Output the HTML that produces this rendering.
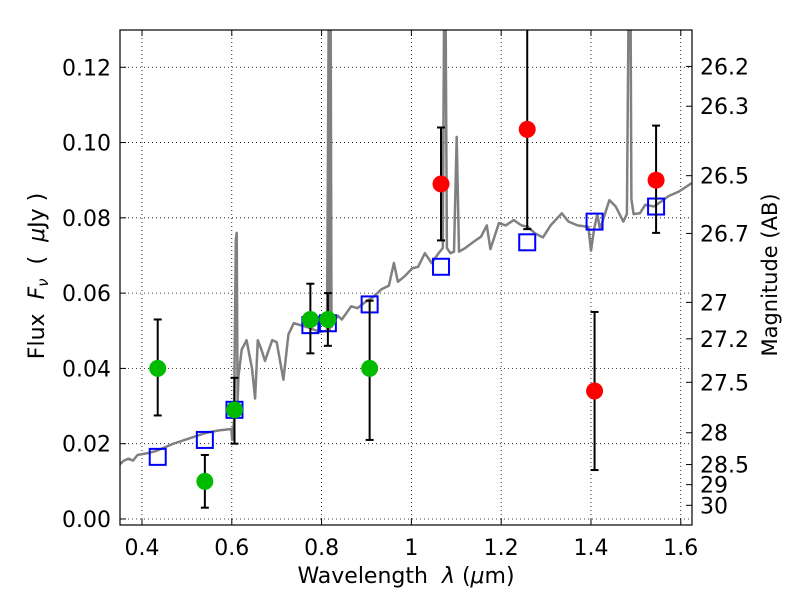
<!DOCTYPE html>
<html><head><meta charset="utf-8"><style>
body{margin:0;background:#fff;}
svg{display:block;font-family:"DejaVu Sans","Liberation Sans",sans-serif;}
.pre{white-space:pre;}
</style></head><body>
<svg id="chart" width="800" height="600" viewBox="0 0 800 600" xmlns="http://www.w3.org/2000/svg">
<rect x="0" y="0" width="800" height="600" fill="#fff"/>
<g id="grid"></g>
<g id="spec"></g>
<g id="marks"></g>
<g id="axes"></g>
<text class="pre" x="406" y="583" font-size="22" text-anchor="middle">Wavelength  <tspan font-style="italic">λ</tspan> (<tspan font-style="italic">μ</tspan>m)</text>
<text class="pre" transform="translate(44,276) rotate(-90)" font-size="22" text-anchor="middle">Flux  <tspan font-style="italic">F<tspan font-size="15" dy="4">ν</tspan></tspan><tspan dy="-4">  (  </tspan><tspan font-style="italic">μ</tspan>Jy )</text>
<text transform="translate(777,275) rotate(-90)" font-size="21" text-anchor="middle">Magnitude (AB)</text>
</svg>
<script>
const xTicks=[0.4,0.6,0.8,1.0,1.2,1.4,1.6];
const xTickLabels=["0.4","0.6","0.8","1","1.2","1.4","1.6"];
const yTicks=[0,0.02,0.04,0.06,0.08,0.10,0.12];
const yTickLabels=["0.00","0.02","0.04","0.06","0.08","0.10","0.12"];
const magTicks=[26.2,26.3,26.5,26.7,27,27.2,27.5,28,28.5,29,30];
const magTickLabels=["26.2","26.3","26.5","26.7","27","27.2","27.5","28","28.5","29","30"];
const greenWave=[0.435,0.54,0.606,0.775,0.814,0.907];
const greenFlux=[0.040,0.010,0.029,0.053,0.053,0.040];
const greenLo=[0.0275,0.003,0.020,0.044,0.046,0.021];
const greenHi=[0.053,0.017,0.0375,0.0625,0.060,0.058];
const redWave=[1.066,1.258,1.408,1.545];
const redFlux=[0.089,0.1035,0.034,0.090];
const redLo=[0.074,0.077,0.013,0.076];
const redHi=[0.104,0.14,0.055,0.1045];
const modelWave=[0.435,0.54,0.606,0.775,0.814,0.907,1.066,1.258,1.408,1.545];
const modelFlux=[0.0165,0.021,0.029,0.0515,0.052,0.057,0.067,0.0735,0.079,0.083];
const specWave=[0.35,0.36,0.37,0.38,0.39,0.413,0.43,0.45,0.47,0.495,0.52,0.54,0.57,0.599,0.601,0.605,0.609,0.611,0.613,0.615,0.622,0.633,0.640,0.645,0.652,0.658,0.666,0.674,0.69,0.70,0.715,0.726,0.738,0.767,0.796,0.812,0.816,0.818,0.820,0.822,0.826,0.836,0.845,0.866,0.880,0.896,0.915,0.933,0.950,0.961,0.97,0.985,1.002,1.015,1.03,1.045,1.060,1.070,1.073,1.076,1.079,1.087,1.095,1.101,1.106,1.12,1.139,1.155,1.168,1.176,1.195,1.21,1.228,1.245,1.26,1.275,1.293,1.31,1.335,1.35,1.37,1.394,1.4,1.407,1.414,1.42,1.441,1.455,1.472,1.480,1.484,1.488,1.49,1.495,1.509,1.521,1.54,1.556,1.573,1.596,1.624];
const specFlux=[0.0145,0.0155,0.016,0.0155,0.017,0.0175,0.018,0.019,0.020,0.021,0.022,0.0228,0.0235,0.0239,0.021,0.026,0.074,0.076,0.031,0.038,0.045,0.0475,0.043,0.040,0.032,0.0475,0.045,0.042,0.0475,0.047,0.037,0.049,0.052,0.051,0.0497,0.050,0.14,0.05,0.14,0.051,0.052,0.054,0.053,0.0565,0.056,0.0575,0.059,0.061,0.062,0.068,0.063,0.0645,0.0666,0.067,0.0706,0.068,0.0705,0.072,0.14,0.14,0.072,0.0706,0.071,0.1015,0.071,0.072,0.0737,0.075,0.078,0.0717,0.0786,0.078,0.0794,0.078,0.0776,0.0759,0.0748,0.078,0.0812,0.079,0.078,0.0776,0.0713,0.077,0.081,0.077,0.0847,0.083,0.079,0.081,0.14,0.14,0.085,0.081,0.0812,0.0835,0.083,0.0843,0.0858,0.087,0.0892];
const X0=120,X1=692,Y0=525,Y1=30,XMIN=0.351,XMAX=1.625,YMIN=-0.0016,YMAX=0.1299;
const NS="http://www.w3.org/2000/svg";
function xs(v){return X0+(v-XMIN)/(XMAX-XMIN)*(X1-X0);}
function ys(v){return Y0-(v-YMIN)/(YMAX-YMIN)*(Y0-Y1);}
function magToFlux(m){return Math.pow(10,(23.9-m)/2.5);}
function mk(tag,attrs,parent){const e=document.createElementNS(NS,tag);for(const k in attrs)e.setAttribute(k,attrs[k]);parent.appendChild(e);return e;}
const grid=document.getElementById('grid'),axes=document.getElementById('axes'),spec=document.getElementById('spec'),marks=document.getElementById('marks');
xTicks.forEach((t,i)=>{const x=xs(t);
 const g=mk('line',{x1:x,x2:x,y1:Y1,y2:Y0,stroke:'#000','stroke-width':0.8,'stroke-dasharray':'1,3'},grid);
 
 
 mk('line',{x1:x,x2:x,y1:Y0,y2:Y0-6,stroke:'#000'},axes);
 mk('line',{x1:x,x2:x,y1:Y1,y2:Y1+6,stroke:'#000'},axes);
 const tx=mk('text',{x:x,y:Y0+30,'font-size':22,'text-anchor':'middle'},axes);tx.textContent=xTickLabels[i];
 
 
});
yTicks.forEach((t,i)=>{const y=ys(t);
 const g=mk('line',{x1:X0,x2:X1,y1:y,y2:y,stroke:'#000','stroke-width':0.8,'stroke-dasharray':'1,3'},grid);
 
 
 mk('line',{x1:X0,x2:X0+6,y1:y,y2:y,stroke:'#000'},axes);
 const tx=mk('text',{x:X0-9,y:y+8,'font-size':22,'text-anchor':'end'},axes);tx.textContent=yTickLabels[i];
 
 
});
magTicks.forEach((m,i)=>{const y=ys(magToFlux(m));
 mk('line',{x1:X1,x2:X1-6,y1:y,y2:y,stroke:'#000'},axes);
 const tx=mk('text',{x:X1+8,y:y+8,'font-size':22},axes);tx.textContent=magTickLabels[i];
 
 
});
const fr=mk('rect',{x:X0,y:Y1,width:X1-X0,height:Y0-Y1,fill:'none',stroke:'#000','stroke-width':1.2},axes);


const defs=mk('defs',{},document.getElementById('chart'));
const cp=mk('clipPath',{id:'clip'},defs);mk('rect',{x:X0,y:Y1,width:X1-X0,height:Y0-Y1},cp);
spec.setAttribute('clip-path','url(#clip)');marks.setAttribute('clip-path','url(#clip)');
let d='';specWave.forEach((w,i)=>{d+=(i?'L':'M')+xs(w).toFixed(1)+','+ys(specFlux[i]).toFixed(1);});
const sp=mk('path',{d:d,fill:'none',stroke:'#808080','stroke-width':2.5,'stroke-linejoin':'round'},spec);


function errbar(w,lo,hi){const x=xs(w);
 mk('line',{x1:x,x2:x,y1:ys(lo),y2:ys(hi),stroke:'#000','stroke-width':2},marks);
 mk('line',{x1:x-4,x2:x+4,y1:ys(lo),y2:ys(lo),stroke:'#000','stroke-width':2},marks);
 mk('line',{x1:x-4,x2:x+4,y1:ys(hi),y2:ys(hi),stroke:'#000','stroke-width':2},marks);}
modelWave.forEach((w,i)=>{const s=mk('rect',{x:xs(w)-8,y:ys(modelFlux[i])-8,width:16,height:16,fill:'none',stroke:'#0000ff','stroke-width':2},marks);
 
 
});
greenWave.forEach((w,i)=>{errbar(w,greenLo[i],greenHi[i]);
 const c=mk('circle',{cx:xs(w),cy:ys(greenFlux[i]),r:8.5,fill:'#00bb00'},marks);
 
 
});
redWave.forEach((w,i)=>{errbar(w,redLo[i],redHi[i]);
 const c=mk('circle',{cx:xs(w),cy:ys(redFlux[i]),r:8.5,fill:'#ff0000'},marks);
 
 
});
</script>
</body></html>
